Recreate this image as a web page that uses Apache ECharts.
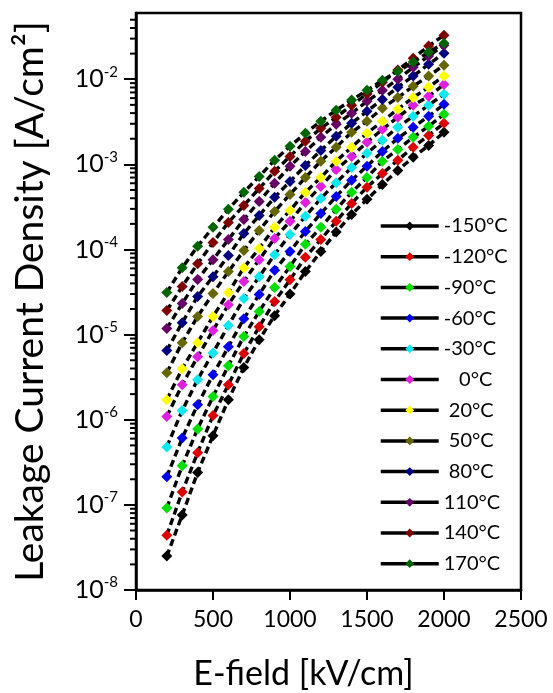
<!DOCTYPE html>
<html>
<head>
<meta charset="utf-8">
<script src="https://cdn.jsdelivr.net/npm/echarts@6/dist/echarts.min.js"></script>
<style>
html,body{margin:0;padding:0;background:#fff;}
#chart{width:553px;height:693px;}
</style>
</head>
<body>
<div id="chart"></div>
<script>
// E-field values [kV/cm]
const eField = [200,300,400,500,600,700,800,900,1000,1100,1200,1300,1400,1500,1600,1700,1800,1900,2000];
// Legend / series names
const temps = ['-150°C','-120°C','-90°C','-60°C','-30°C','   0°C',' 20°C',' 50°C',' 80°C','110°C','140°C','170°C'];
const colors = ['#000000','#dd0000','#00e000','#0000f0','#10e8f0','#e020e0','#ffff00','#666600','#000080','#660066','#800000','#006400'];
// Leakage current density [A/cm²], one array per temperature
const jM150 = [2.5e-8,7.6e-8,2.4e-7,6.5e-7,1.72e-6,4.1e-6,8.7e-6,1.67e-5,3.0e-5,5.5e-5,9.5e-5,1.6e-4,2.58e-4,3.88e-4,5.8e-4,8.5e-4,1.21e-3,1.67e-3,2.38e-3];
const jM120 = [4.4e-8,1.42e-7,4.1e-7,1.12e-6,2.58e-6,6.0e-6,1.24e-5,2.45e-5,4.4e-5,8.1e-5,1.31e-4,2.14e-4,3.48e-4,5.4e-4,7.8e-4,1.12e-3,1.59e-3,2.19e-3,3.04e-3];
const jM90  = [9.2e-8,2.88e-7,7.8e-7,1.87e-6,4.3e-6,9.5e-6,1.87e-5,3.57e-5,6.3e-5,1.15e-4,1.82e-4,2.96e-4,4.7e-4,7.0e-4,1.09e-3,1.5e-3,2.08e-3,2.8e-3,3.88e-3];
const jM60  = [2.14e-7,6.1e-7,1.5e-6,3.38e-6,7.2e-6,1.54e-5,2.96e-5,5.7e-5,9.5e-5,1.63e-4,2.65e-4,4.2e-4,6.5e-4,9.5e-4,1.42e-3,2.02e-3,2.73e-3,3.67e-3,5.08e-3];
const jM30  = [4.8e-7,1.28e-6,2.96e-6,6.1e-6,1.28e-5,2.65e-5,4.8e-5,8.7e-5,1.5e-4,2.45e-4,3.98e-4,6.1e-4,9.2e-4,1.35e-3,1.92e-3,2.73e-3,3.67e-3,4.95e-3,6.66e-3];
const jP0   = [1.09e-6,2.58e-6,5.5e-6,1.12e-5,2.25e-5,4.2e-5,7.6e-5,1.35e-4,2.14e-4,3.57e-4,5.5e-4,8.7e-4,1.24e-3,1.82e-3,2.58e-3,3.57e-3,4.95e-3,6.3e-3,8.7e-3];
const jP20  = [1.72e-6,3.98e-6,8.05e-6,1.63e-5,3.12e-5,6.1e-5,1.03e-4,1.82e-4,2.88e-4,4.7e-4,7.0e-4,1.09e-3,1.59e-3,2.32e-3,3.21e-3,4.44e-3,6.1e-3,8.05e-3,1.09e-2];
const jP50  = [3.57e-6,8.05e-6,1.63e-5,3.04e-5,5.5e-5,9.7e-5,1.67e-4,2.8e-4,4.44e-4,7.0e-4,1.09e-3,1.59e-3,2.38e-3,3.21e-3,4.56e-3,6.1e-3,8.27e-3,1.09e-2,1.46e-2];
const jP80  = [6.5e-6,1.38e-5,2.8e-5,4.8e-5,8.5e-5,1.54e-4,2.51e-4,4.1e-4,6.3e-4,9.7e-4,1.46e-3,2.14e-3,3.04e-3,4.2e-3,5.8e-3,8.05e-3,1.09e-2,1.5e-2,2.02e-2];
const jP110 = [1.18e-5,2.32e-5,4.44e-5,7.6e-5,1.31e-4,2.25e-4,3.67e-4,6.0e-4,9.5e-4,1.42e-3,2.08e-3,2.96e-3,3.98e-3,5.5e-3,7.4e-3,1.0e-2,1.38e-2,1.87e-2,2.51e-2];
const jP140 = [1.92e-5,3.67e-5,6.8e-5,1.21e-4,2.08e-4,3.29e-4,5.2e-4,8.3e-4,1.24e-3,1.87e-3,2.65e-3,3.57e-3,4.95e-3,6.7e-3,9.2e-3,1.28e-2,1.77e-2,2.45e-2,3.29e-2];
const jP170 = [3.12e-5,6.1e-5,1.09e-4,1.82e-4,2.96e-4,4.7e-4,7.2e-4,1.12e-3,1.63e-3,2.32e-3,3.21e-3,4.32e-3,5.7e-3,7.4e-3,9.7e-3,1.24e-2,1.59e-2,2.08e-2,2.65e-2];
const allSeries = [jM150,jM120,jM90,jM60,jM30,jP0,jP20,jP50,jP80,jP110,jP140,jP170];
// Log-axis minor tick values (2..9 per decade)
const minorTicks = [];
for (let e = -8; e <= -2; e++) {
  for (let m = 2; m <= 9; m++) {
    const v = m * Math.pow(10, e);
    if (v < 0.06) minorTicks.push(v);
  }
}

const FONT = 'Lato';
const chart = echarts.init(document.getElementById('chart'), null, {renderer: 'canvas'});

const series = allSeries.map((vals, i) => ({
  name: temps[i],
  type: 'line',
  data: eField.map((x, k) => [x, vals[k]]),
  symbol: 'diamond',
  symbolSize: 11,
  itemStyle: {color: colors[i], borderWidth: 0},
  lineStyle: {color: '#000', width: 3.4, type: [7, 4]},
  emphasis: {disabled: true},
  z: 2 + i * 0.01
}));

series.push({
  type: 'custom',
  silent: true,
  clip: false,
  z: 5,
  data: minorTicks.map(v => [0, v]),
  renderItem: function (params, api) {
    const p = api.coord([0, api.value(1)]);
    return {
      type: 'line',
      shape: {x1: p[0] - 6, y1: p[1], x2: p[0], y2: p[1]},
      style: {stroke: '#000', lineWidth: 2}
    };
  }
});

chart.setOption({
  animation: false,
  backgroundColor: '#fff',
  textStyle: {fontFamily: FONT},
  grid: {left: 136, right: 32, top: 13, bottom: 103, containLabel: false, outerBoundsMode: 'none', show: true, borderColor: '#000', borderWidth: 2.5, backgroundColor: 'transparent'},
  legend: {
    data: temps,
    orient: 'vertical',
    left: 374,
    top: 211,
    padding: 5,
    itemWidth: 58,
    itemHeight: 11,
    itemGap: 10.7,
    lineStyle: {type: 'solid', width: 3.5, color: '#000'},
    textStyle: {fontSize: 20, lineHeight: 20, color: '#000', fontFamily: FONT},
    selectedMode: false
  },
  xAxis: {
    type: 'value',
    min: 0,
    max: 2500,
    interval: 500,
    axisLine: {show: true, onZero: false, lineStyle: {color: '#000', width: 2.5}},
    axisTick: {show: true, inside: false, length: 10, lineStyle: {color: '#000', width: 2}},
    axisLabel: {fontSize: 23, margin: 18, color: '#000', fontFamily: FONT, formatter: v => String(v)},
    splitLine: {show: false},
    name: 'E-field [kV/cm]',
    nameLocation: 'middle',
    nameGap: 67,
    nameTextStyle: {fontSize: 34, color: '#000', fontFamily: FONT, padding: [0, 50, 0, 0]}
  },
  yAxis: {
    type: 'log',
    logBase: 10,
    min: 1e-8,
    max: 0.06,
    axisLine: {show: true, onZero: false, lineStyle: {color: '#000', width: 2.5}},
    axisTick: {show: true, inside: false, length: 12, lineStyle: {color: '#000', width: 2}},
    axisLabel: {
      margin: 18,
      color: '#000',
      showMaxLabel: false,
      formatter: function (v) {
        const l = Math.log10(v);
        const e = Math.round(l);
        if (Math.abs(l - e) > 1e-6) return '';
        return '{b|10}{s|' + e + '}';
      },
      rich: {
        b: {fontSize: 25, fontFamily: FONT, color: '#000', lineHeight: 30},
        s: {fontSize: 15, fontFamily: FONT, color: '#000', verticalAlign: 'top', lineHeight: 15}
      }
    },
    splitLine: {show: false},
    minorTick: {show: false},
    name: 'Leakage Current Density [A/cm²]',
    nameLocation: 'middle',
    nameGap: 86,
    nameTextStyle: {fontSize: 39, color: '#000', fontFamily: FONT}
  },
  series: series
});
</script>
</body>
</html>
